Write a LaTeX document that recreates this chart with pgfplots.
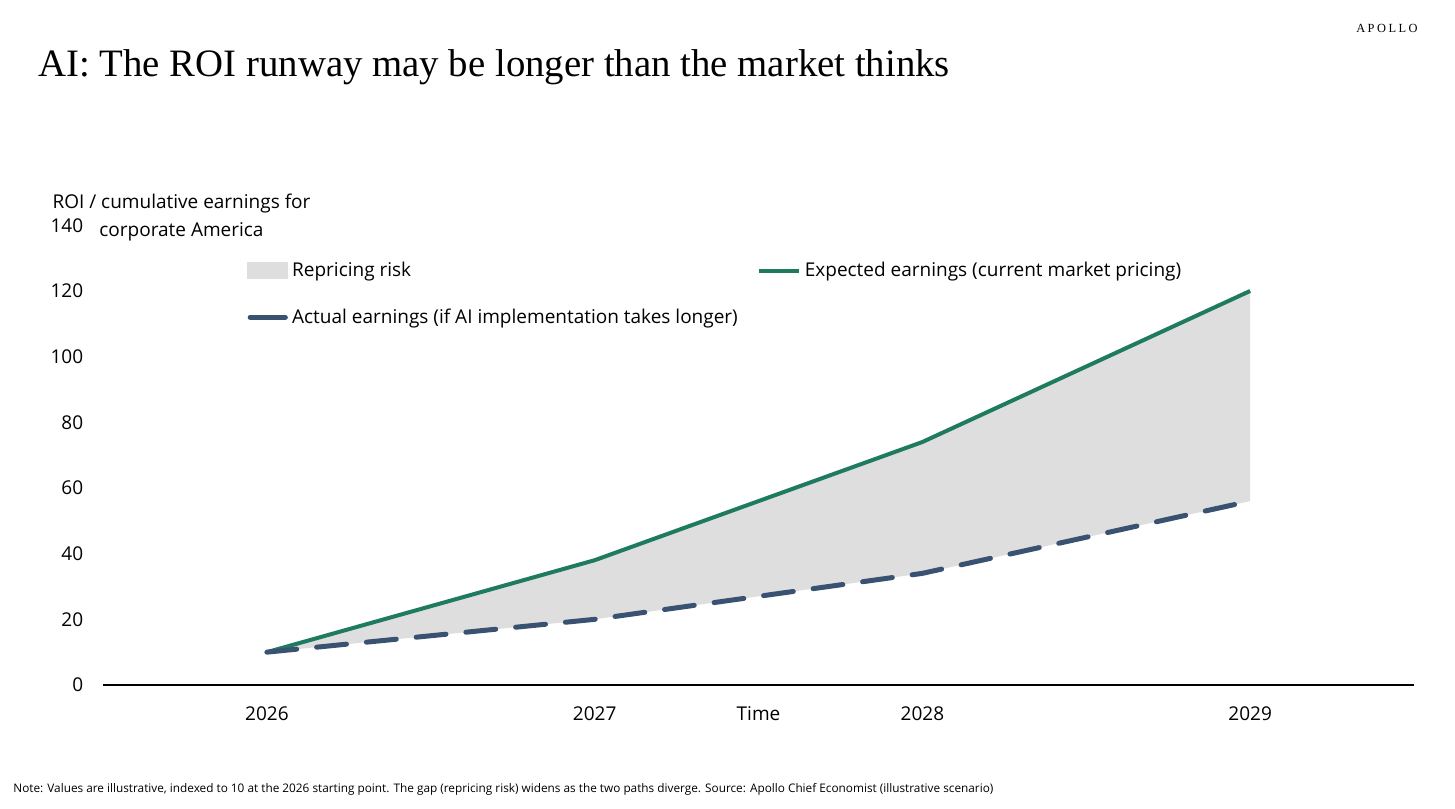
\documentclass[border=0pt]{standalone}
\usepackage{fontspec}
\setmainfont{Open Sans}
\newfontfamily\titlefont{Liberation Serif}
\newfontfamily\logofont[LetterSpace=20]{Liberation Serif}
\usepackage{pgfplots}
\pgfplotsset{compat=1.18}
\definecolor{expgreen}{HTML}{1E7B5F}
\definecolor{actnavy}{HTML}{3A5272}
\definecolor{riskgray}{HTML}{DEDEDE}
\newcommand{\lblfont}{\fontsize{9.5}{11.5}\selectfont}

\begin{document}
\begin{tikzpicture}
\path[use as bounding box] (0pt,0pt) rectangle (727.5pt,404pt);
% headline and logo
\node[anchor=base west, inner sep=0pt, font=\titlefont\fontsize{19.4}{22}\selectfont] at (19pt,365.5pt) {AI: The ROI runway may be longer than the market thinks};
\node[anchor=east, inner sep=0pt, font=\logofont\fontsize{6.2}{7}\selectfont] at (709pt,390pt) {APOLLO};
% y-axis title
\node[anchor=base, inner sep=0pt, font=\lblfont] at (90.75pt,299.5pt) {ROI / cumulative earnings for};
\node[anchor=base, inner sep=0pt, font=\lblfont] at (90.75pt,285.75pt) {corporate America};
% footnote
\node[anchor=base west, inner sep=0pt, font=\fontsize{5.9}{7}\selectfont] at (6.5pt,8pt) {Note: Values are illustrative, indexed to 10 at the 2026 starting point. The gap (repricing risk) widens as the two paths diverge. Source: Apollo Chief Economist (illustrative scenario)};

\begin{axis}[
  at={(51.5pt,61.5pt)}, anchor=south west,
  scale only axis, width=655.5pt, height=229.85pt,
  xmin=2025.5, xmax=2029.5, ymin=0, ymax=140,
  axis x line*=bottom, axis y line*=left,
  x axis line style={black, line width=1pt, -},
  y axis line style={draw=none},
  xtick={2026,2027,2028,2029}, ytick={0,20,...,140},
  major tick length=0pt,
  /pgf/number format/1000 sep={},
  /pgf/number format/assume math mode=true,
  tick label style={font=\lblfont, text=black},
  xticklabel style={anchor=base, yshift=-18pt},
  yticklabel style={anchor=east, xshift=-6.4pt},
  xlabel={Time},
  xlabel style={at={(axis description cs:0.5,0)}, anchor=base, yshift=-18pt, font=\lblfont},
  legend columns=2,
  legend cell align=left,
  legend style={draw=none, fill=none, inner sep=0pt, font=\lblfont,
    at={(axis description cs:0.1098,0.930)}, anchor=north west,
    row sep=10.6pt,
    /tikz/every even column/.append style={column sep=7.5pt}},
  clip=false,
]
\addlegendimage{legend image code/.code={\fill[riskgray] (0pt,-4.1pt) rectangle (20pt,4.1pt);}}
\addlegendentry{Repricing risk}
\addlegendimage{legend image code/.code={\draw[expgreen, line width=2pt] (0pt,0pt) -- (20pt,0pt);}}
\addlegendentry{Expected earnings (current market pricing)}
\addlegendimage{legend image code/.code={\draw[actnavy, line width=2.5pt, line cap=round] (1.2pt,0pt) -- (18.8pt,0pt);}}
\addlegendentry{Actual earnings (if AI implementation takes longer)}

% shaded gap: up along the expected path, back down along the actual path
\addplot[draw=none, fill=riskgray, forget plot] coordinates {
  (2026,10) (2027,38) (2028,74) (2029,120)
  (2029,56) (2028,34) (2027,20) (2026,10)} -- cycle;

% expected path (solid) and actual path (dashed)
\addplot[expgreen, line width=2pt, forget plot] coordinates {(2026,10) (2027,38) (2028,74) (2029,120)};
\addplot[actnavy, line width=2.5pt, dash pattern=on 15pt off 10pt, line cap=round, forget plot] coordinates {(2026,10) (2027,20) (2028,34) (2029,56)};
\end{axis}
\end{tikzpicture}
\end{document}
